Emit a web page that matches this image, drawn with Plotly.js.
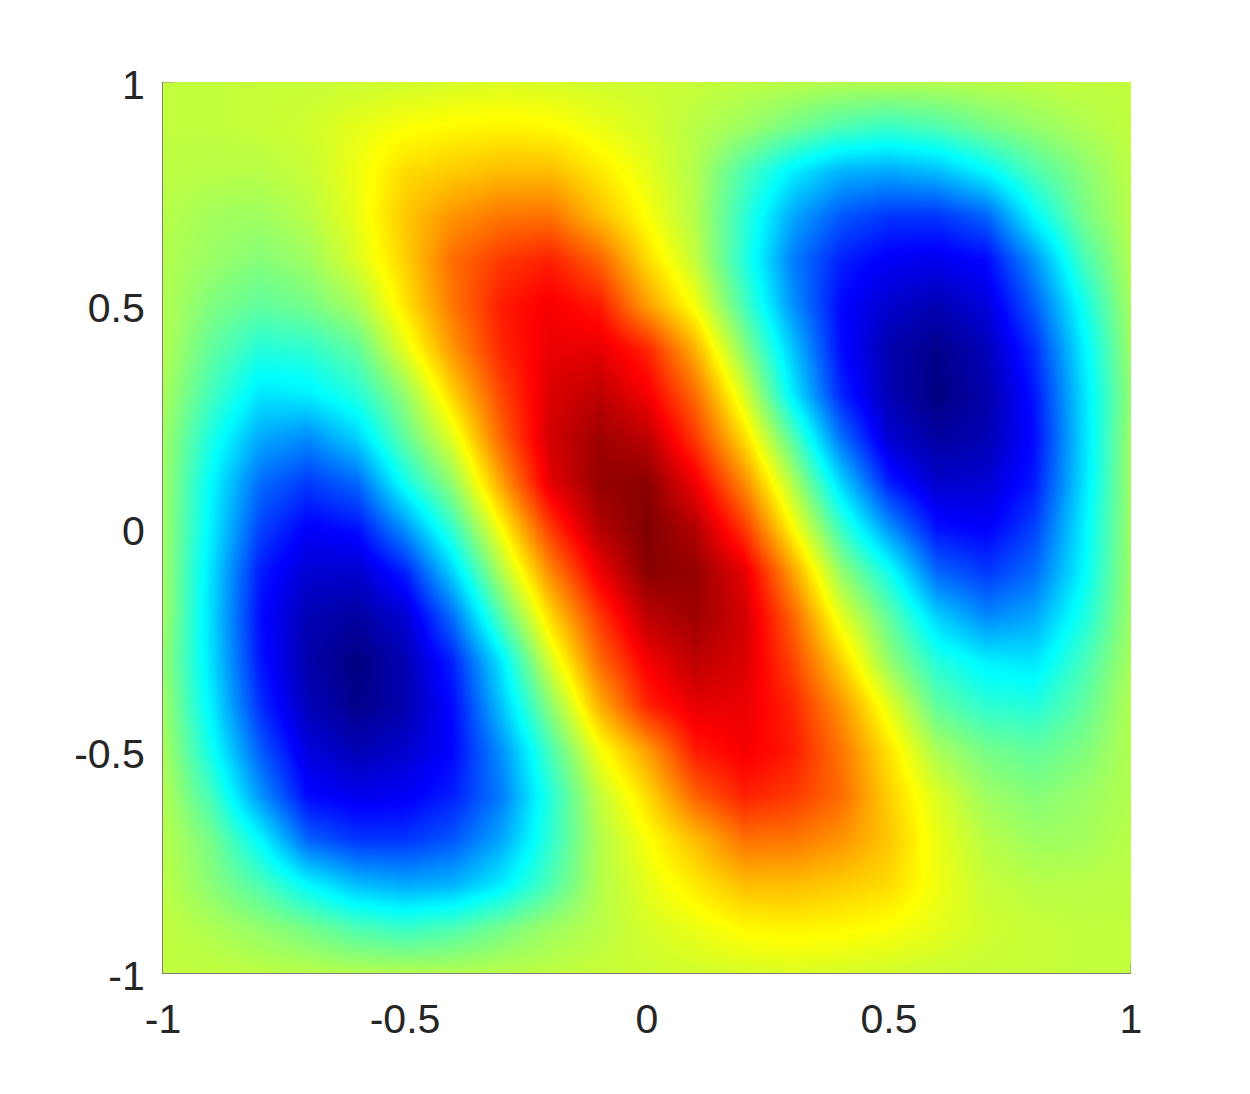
<!DOCTYPE html>
<html>
<head>
<meta charset="utf-8">
<script src="https://cdn.plot.ly/plotly-3.0.1.min.js"></script>
<style>body { margin: 0; background: #fff; }</style>
</head>
<body>
<div id="chart" style="width:1250px;height:1094px"></div>
<script>
const xs = [-1,-0.9,-0.8,-0.7,-0.6,-0.5,-0.4,-0.3,-0.2,-0.1,0,0.1,0.2,0.3,0.4,0.5,0.6,0.7,0.8,0.9,1];
const ys = [1,0.9,0.8,0.7,0.6,0.5,0.4,0.3,0.2,0.1,0,-0.1,-0.2,-0.3,-0.4,-0.5,-0.6,-0.7,-0.8,-0.9,-1];

// values, one row per y, 0 = darkest blue, 1 = darkest red
const field = [
  [.565,.565,.57,.57,.575,.58,.585,.59,.585,.58,.575,.57,.56,.555,.55,.55,.55,.555,.56,.565,.565],
  [.565,.565,.57,.58,.60,.62,.63,.635,.63,.605,.585,.555,.53,.49,.45,.43,.45,.49,.52,.545,.565],
  [.56,.555,.555,.57,.61,.66,.675,.69,.69,.645,.60,.55,.45,.36,.30,.29,.31,.37,.45,.51,.56],
  [.555,.535,.53,.555,.605,.68,.73,.76,.765,.69,.62,.55,.42,.29,.21,.175,.175,.22,.37,.49,.555],
  [.55,.525,.505,.53,.59,.67,.77,.82,.845,.78,.66,.565,.41,.25,.155,.115,.105,.13,.27,.44,.55],
  [.55,.50,.47,.49,.54,.65,.76,.85,.885,.85,.72,.615,.445,.27,.13,.075,.05,.09,.215,.39,.54],
  [.55,.47,.41,.42,.47,.60,.73,.84,.895,.90,.84,.70,.51,.32,.135,.045,.01,.055,.17,.36,.53],
  [.54,.44,.35,.36,.41,.52,.67,.81,.91,.94,.885,.77,.585,.36,.16,.05,.00,.04,.145,.345,.52],
  [.53,.40,.29,.26,.33,.47,.60,.78,.92,.97,.94,.82,.66,.46,.235,.08,.03,.05,.135,.34,.53],
  [.53,.37,.23,.18,.225,.39,.52,.72,.90,.98,.99,.89,.74,.55,.335,.155,.075,.08,.15,.345,.53],
  [.53,.36,.19,.12,.14,.27,.43,.63,.82,.95,1.0,.95,.82,.63,.43,.27,.14,.12,.19,.36,.53],
  [.53,.345,.15,.08,.075,.155,.335,.55,.74,.89,.99,.98,.90,.72,.52,.39,.225,.18,.23,.37,.53],
  [.53,.34,.135,.05,.03,.08,.235,.46,.66,.82,.94,.97,.92,.78,.60,.47,.33,.26,.29,.40,.53],
  [.52,.345,.145,.04,.00,.05,.16,.36,.585,.77,.885,.94,.91,.81,.67,.52,.41,.36,.35,.44,.54],
  [.53,.36,.17,.055,.01,.045,.135,.32,.51,.70,.84,.90,.895,.84,.73,.60,.47,.42,.41,.47,.55],
  [.54,.39,.215,.09,.05,.075,.13,.27,.445,.615,.72,.85,.885,.85,.76,.65,.54,.49,.47,.50,.55],
  [.55,.44,.27,.13,.105,.115,.155,.25,.41,.565,.66,.78,.845,.82,.77,.67,.59,.53,.505,.525,.55],
  [.555,.49,.37,.22,.175,.175,.21,.29,.42,.55,.62,.69,.765,.76,.73,.68,.605,.555,.53,.535,.555],
  [.56,.51,.45,.37,.31,.29,.30,.36,.45,.55,.60,.645,.69,.69,.675,.66,.61,.57,.555,.555,.56],
  [.565,.545,.52,.49,.45,.43,.45,.49,.53,.555,.585,.605,.63,.635,.63,.62,.60,.58,.57,.565,.565],
  [.565,.565,.56,.555,.55,.55,.55,.555,.56,.57,.575,.58,.585,.59,.585,.58,.575,.57,.57,.565,.565]
];

const tickVals = [-1,-0.5,0,0.5,1];
const tickText = ['-1','-0.5','0','0.5','1'];

const jet = [
  [0,'rgb(0,0,128)'],
  [0.125,'rgb(0,0,255)'],
  [0.375,'rgb(0,255,255)'],
  [0.625,'rgb(255,255,0)'],
  [0.875,'rgb(255,0,0)'],
  [1,'rgb(128,0,0)']
];

const trace = {
  type: 'heatmap',
  x: xs,
  y: ys,
  z: field,
  zmin: 0,
  zmax: 1,
  zsmooth: 'best',
  colorscale: jet,
  showscale: false,
  hoverinfo: 'skip'
};

const axisFont = { family: '"Liberation Sans", Arial, sans-serif', size: 41, color: '#262626' };

const layout = {
  width: 1250,
  height: 1094,
  margin: { l: 163, r: 119, t: 82, b: 121 },
  paper_bgcolor: '#fff',
  plot_bgcolor: '#fff',
  showlegend: false,
  xaxis: {
    range: [-1, 1],
    tickmode: 'array',
    tickvals: tickVals,
    ticktext: tickText,
    tickfont: axisFont,
    ticks: '',
    showgrid: false,
    zeroline: false,
    showline: true,
    linecolor: '#808080',
    linewidth: 1,
    ticklabelstandoff: 10
  },
  yaxis: {
    range: [-1, 1],
    tickmode: 'array',
    tickvals: tickVals,
    ticktext: tickText,
    tickfont: axisFont,
    ticks: '',
    showgrid: false,
    zeroline: false,
    showline: true,
    linecolor: '#808080',
    linewidth: 1,
    ticklabelstandoff: 9,
    ticklabelshift: 3
  },
  // the two tick stubs that poke out past the image
  shapes: [
    { type: 'line', xref: 'x', yref: 'y', x0: -1, x1: -0.977, y0: 1, y1: 1, line: { color: '#808080', width: 1 } },
    { type: 'line', xref: 'x', yref: 'y', x0: 1, x1: 1, y0: -1, y1: -0.977, line: { color: '#808080', width: 1 } }
  ]
};

Plotly.newPlot('chart', [trace], layout, { displayModeBar: false, responsive: false });
</script>
</body>
</html>
